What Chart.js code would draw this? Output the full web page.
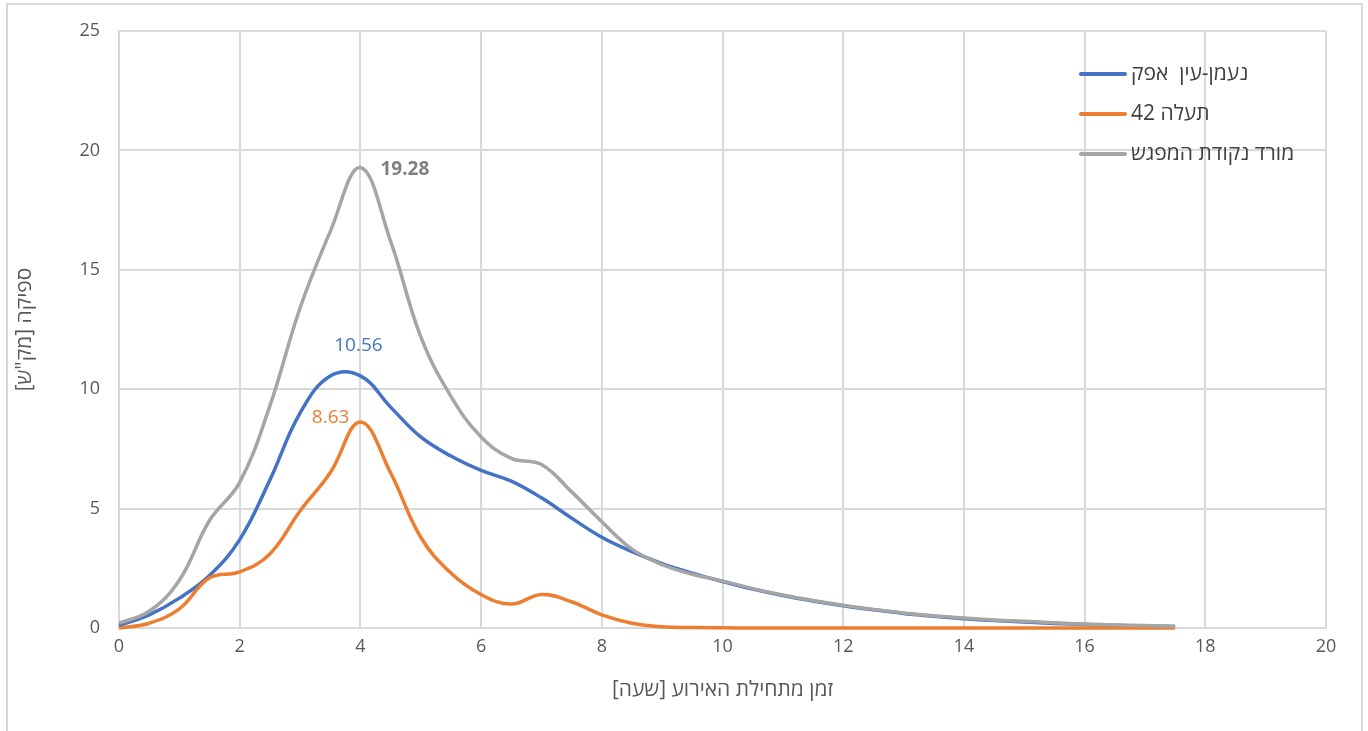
<!DOCTYPE html>
<html lang="he">
<head>
<meta charset="utf-8">
<script src="https://cdn.jsdelivr.net/npm/chart.js@4/dist/chart.umd.min.js"></script>
<style>
    html, body { margin: 0; padding: 0; background: #fff; }
    #wrap { position: relative; width: 1368px; height: 731px; overflow: hidden; }
    #frame { position: absolute; left: 6px; top: 3px; width: 1353px; height: 760px; border: 2px solid #d9d9d9; }
    #chart { position: absolute; left: 0; top: 0; direction: rtl; }
</style>
</head>
<body>
<div id="wrap">
    <div id="frame"></div>
    <canvas id="chart" width="1368" height="731"></canvas>
</div>
<script>
// ── Data ─────────────────────────────────────────────────────────────────────

const hours = [0, 0.5, 1, 1.5, 2, 2.5, 3, 3.5, 4, 4.5, 5, 5.5, 6, 6.5, 7, 7.5, 8, 8.5,
               9, 9.5, 10, 10.5, 11, 11.5, 12, 12.5, 13, 13.5, 14, 14.5, 15, 15.5, 16, 16.5, 17, 17.5];

const naamanAfek = [0.1, 0.55, 1.25, 2.2, 3.7, 6.2, 9.0, 10.55, 10.56, 9.25, 8.0, 7.2, 6.6, 6.15, 5.45, 4.6, 3.8, 3.2,
                    2.7, 2.3, 1.95, 1.63, 1.36, 1.13, 0.93, 0.76, 0.61, 0.49, 0.39, 0.31, 0.25, 0.19, 0.15, 0.11, 0.08, 0.06];

const channel42 = [0.0, 0.2, 0.8, 2.1, 2.35, 3.1, 4.9, 6.5, 8.63, 6.5, 3.8, 2.3, 1.4, 1.0, 1.4, 1.1, 0.55, 0.2,
                   0.05, 0.02, 0.01, 0, 0, 0, 0, 0, 0, 0, 0, 0, 0, 0, 0, 0, 0, 0];

const meetingPoint = [0.2, 0.7, 2.0, 4.5, 6.1, 9.3, 13.4, 16.6, 19.28, 16.2, 12.2, 9.7, 8.0, 7.1, 6.85, 5.7, 4.45, 3.3,
                      2.65, 2.25, 1.97, 1.65, 1.38, 1.15, 0.95, 0.78, 0.63, 0.51, 0.42, 0.34, 0.28, 0.22, 0.17, 0.13, 0.1, 0.07];

const seriesNames  = ['נעמן-עין  אפק', 'תעלה 42', 'מורד נקודת המפגש'];
const seriesColors = ['#4472C4', '#ED7D31', '#A5A5A5'];
const peakLabels   = ['10.56', '8.63', '19.28'];
const peakIndex    = 8; // x = 4

const xTitle = 'זמן מתחילת האירוע [שעה]';
const yTitle = 'ספיקה [מק"ש]';

// ── Helpers ──────────────────────────────────────────────────────────────────

const FONT = "'Open Sans', 'DejaVu Sans', sans-serif";
const toPoints = vals => hours.map((h, i) => ({ x: h, y: vals[i] }));

// Peak value labels, placed the way the original sheet had them
const peakLabelPlugin = {
    id: 'peakLabels',
    afterDatasetsDraw(chart) {
        const ctx = chart.ctx;
        ctx.save();
        ctx.direction = 'ltr';
        ctx.textBaseline = 'middle';
        chart.data.datasets.forEach((ds, i) => {
            const pt = chart.getDatasetMeta(i).data[peakIndex];
            if (!pt) return;
            ctx.fillStyle = i === 2 ? '#7F7F7F' : seriesColors[i];
            if (i === 0) {          // blue: centred above
                ctx.font = `19px ${FONT}`;
                ctx.textAlign = 'center';
                ctx.fillText(peakLabels[i], pt.x - 2, pt.y - 30);
            } else if (i === 1) {   // orange: to the left
                ctx.font = `19px ${FONT}`;
                ctx.textAlign = 'right';
                ctx.fillText(peakLabels[i], pt.x - 11, pt.y - 4);
            } else {                // gray: to the right, bold
                ctx.font = `bold 19px ${FONT}`;
                ctx.textAlign = 'left';
                ctx.fillText(peakLabels[i], pt.x + 20, pt.y + 2);
            }
        });
        ctx.restore();
    }
};

// Legend drawn inside the plot, top right
const insideLegendPlugin = {
    id: 'insideLegend',
    afterDraw(chart) {
        const ctx = chart.ctx;
        ctx.save();
        ctx.direction = 'rtl';
        ctx.textAlign = 'left';
        ctx.textBaseline = 'middle';
        ctx.font = `21px ${FONT}`;
        chart.data.datasets.forEach((ds, i) => {
            const y = 74 + i * 40;
            ctx.strokeStyle = ds.borderColor;
            ctx.lineWidth = 4;
            ctx.lineCap = 'round';
            ctx.beginPath();
            ctx.moveTo(1081, y);
            ctx.lineTo(1125, y);
            ctx.stroke();
            ctx.fillStyle = '#404040';
            ctx.fillText(ds.label, 1131, y);
        });
        ctx.restore();
    }
};

// ── Chart ────────────────────────────────────────────────────────────────────

const datasets = [naamanAfek, channel42, meetingPoint].map((vals, i) => ({
    label: seriesNames[i],
    data: toPoints(vals),
    borderColor: seriesColors[i],
    backgroundColor: seriesColors[i],
    borderWidth: 3.5,
    pointRadius: 0,
    tension: 0.4,
    fill: false,
    clip: 6
}));

// gray drawn last (on top), as in the sheet
datasets.forEach((d, i) => { d.order = 2 - i; });

new Chart(document.getElementById('chart'), {
    type: 'line',
    data: { datasets },
    plugins: [peakLabelPlugin, insideLegendPlugin],
    options: {
        responsive: false,
        animation: false,
        layout: { padding: { top: 31, right: 42, bottom: 0, left: 0 } },
        plugins: {
            legend: { display: false },
            tooltip: { enabled: false }
        },
        scales: {
            x: {
                type: 'linear',
                min: 0, max: 20,
                ticks: { stepSize: 2, color: '#595959', padding: 8, font: { family: FONT, size: 18 } },
                grid: { color: '#D9D9D9', lineWidth: 2, drawTicks: false },
                border: { color: '#D9D9D9', width: 2 },
                title: { display: true, text: xTitle, color: '#595959', font: { family: FONT, size: 21 }, padding: { top: 0, bottom: 28 } },
                afterFit(scale) { scale.height = 103; }
            },
            y: {
                min: 0, max: 25,
                ticks: { stepSize: 5, color: '#595959', padding: 19, font: { family: FONT, size: 18 } },
                grid: { color: '#D9D9D9', lineWidth: 2, drawTicks: false },
                border: { color: '#D9D9D9', width: 2 },
                title: { display: true, text: yTitle, color: '#595959', font: { family: FONT, size: 21 }, padding: { top: 12, bottom: 0 } },
                afterFit(scale) { scale.width = 119; }
            }
        }
    }
});
</script>
</body>
</html>
